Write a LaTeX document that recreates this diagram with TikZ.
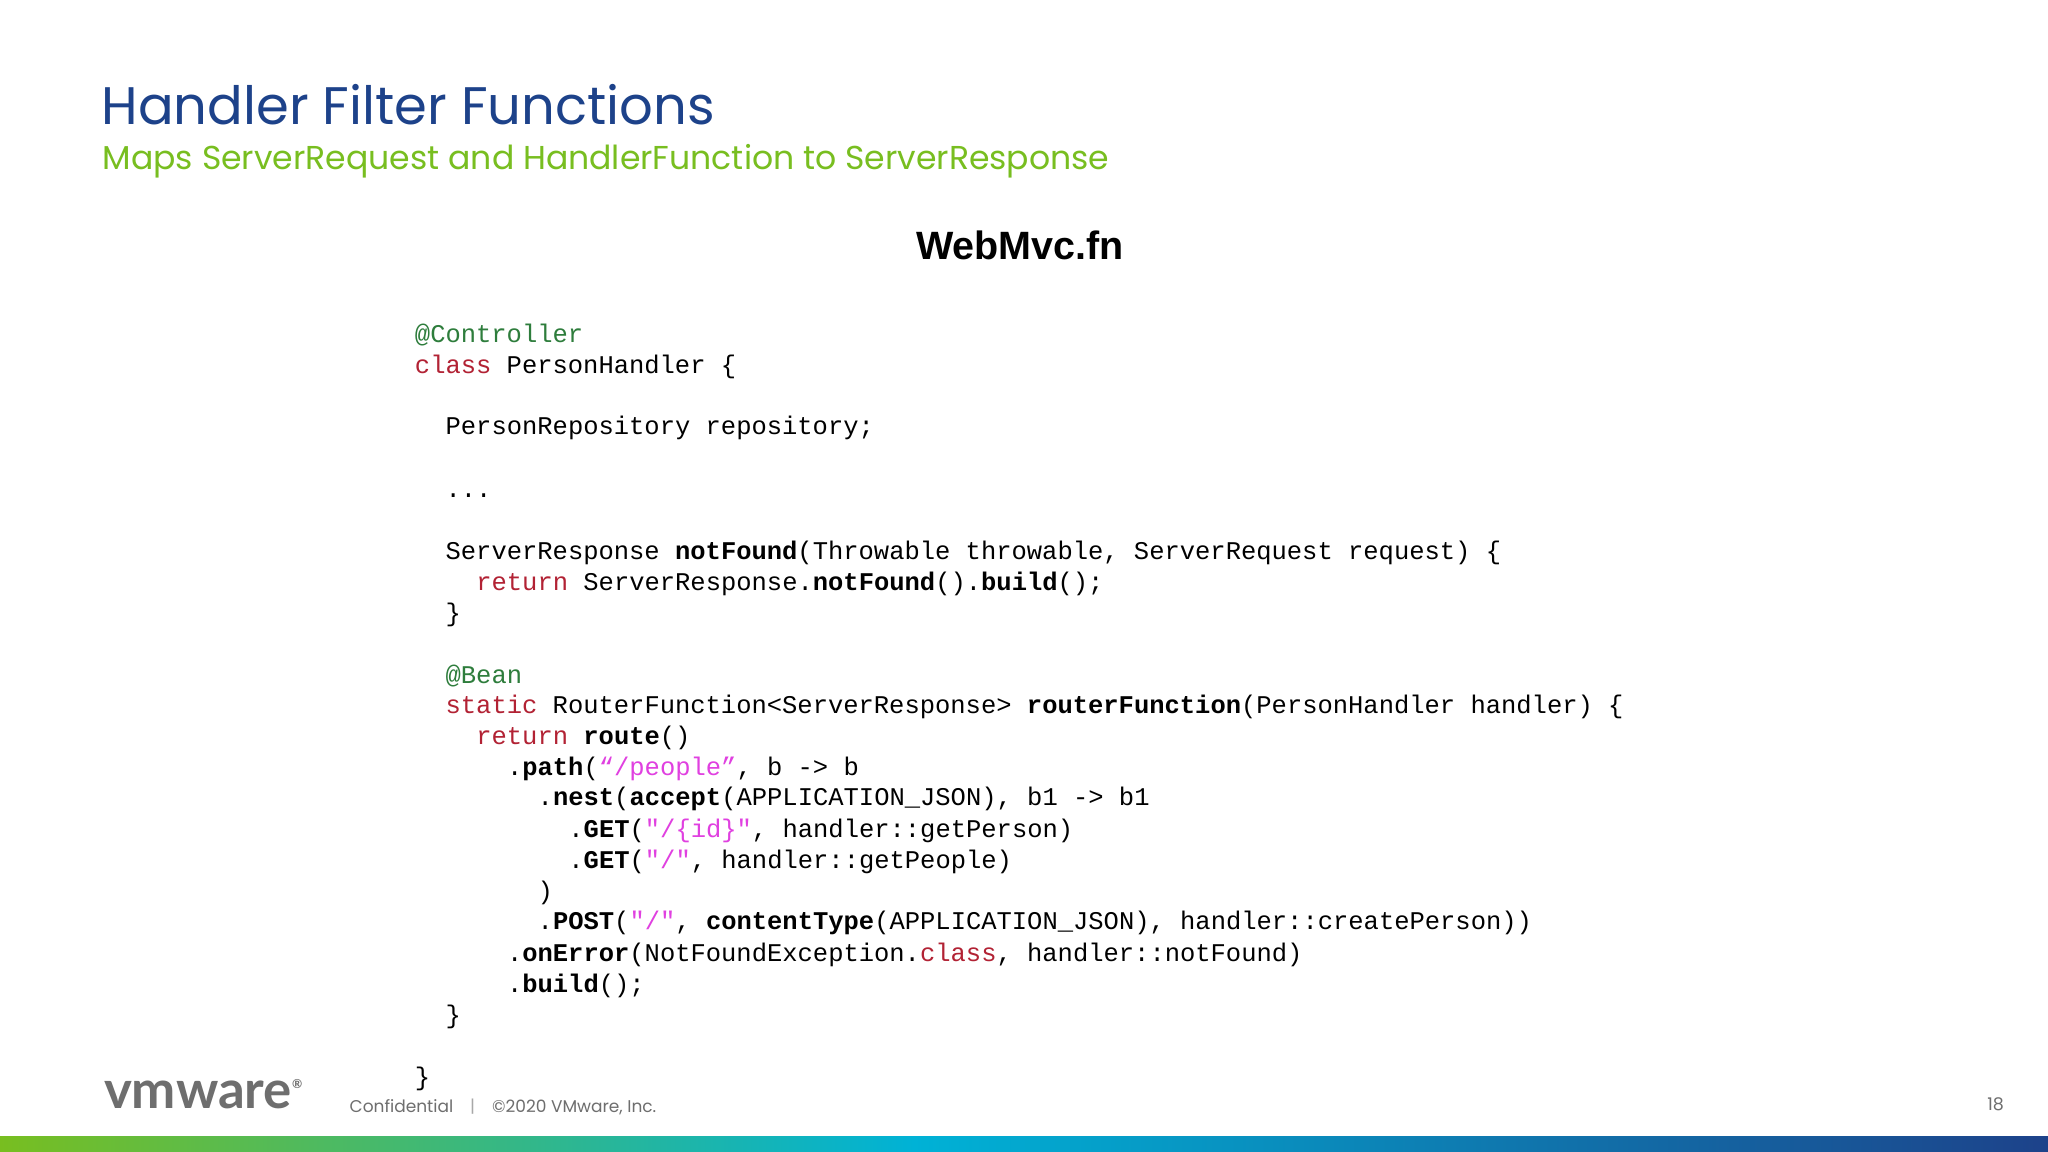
\documentclass[tikz,border=0pt]{standalone}
\usepackage{fontspec}
\setmainfont{Poppins}
\newfontfamily\codef{Liberation Mono}
\newfontfamily\hdf{Liberation Sans}
\newfontfamily\logof{Lato}
\definecolor{ttl}{RGB}{29,66,138}
\definecolor{sub}{RGB}{120,190,32}
\definecolor{kw}{RGB}{178,34,52}
\definecolor{ann}{RGB}{46,125,60}
\definecolor{str}{RGB}{224,64,224}
\definecolor{gry}{RGB}{110,110,110}
\newcommand{\K}[1]{\textcolor{kw}{#1}}
\newcommand{\A}[1]{\textcolor{ann}{#1}}
\newcommand{\Sx}[1]{\textcolor{str}{#1}}
\newcommand{\B}[1]{\textbf{#1}}
\begin{document}
\begin{tikzpicture}[x=0.01cm,y=-0.01cm,
  code/.style={anchor=base west,inner sep=0,font=\codef\fontsize{5.55}{6}\selectfont}]
\useasboundingbox (0,0) rectangle (1568,882);
\fill[white] (0,0) rectangle (1568,882);
\node[anchor=base west,inner sep=0,text=ttl,font=\fontsize{11.5}{13}\selectfont] (title) at (77,95) {Handler Filter Functions};
\node[anchor=base west,inner sep=0,text=sub,font=\fontsize{7.2}{9}\selectfont] (subt) at (78,130) {Maps ServerRequest and HandlerFunction to ServerResponse};
\node[anchor=base,inner sep=0,font=\hdf\bfseries\fontsize{8.6}{10}\selectfont] (hd) at (781,199) {WebMvc.fn};
\foreach \n/\i/\yy/\t in {
 1/0/256/{\A{@Controller}},
 2/0/280/{\K{class} PersonHandler \{},
 4/2/327/{PersonRepository repository;},
 6/2/375/{...},
 8/2/422/{ServerResponse \B{notFound}(Throwable throwable, ServerRequest request) \{},
 9/4/446/{\K{return} ServerResponse.\B{notFound}().\B{build}();},
 10/2/470/{\}},
 12/2/517/{\A{@Bean}},
 13/2/540/{\K{static} RouterFunction<ServerResponse> \B{routerFunction}(PersonHandler handler) \{},
 14/4/564/{\K{return} \B{route}()},
 15/6/588/{.\B{path}(\Sx{“/people”}, b -> b},
 16/8/611/{.\B{nest}(\B{accept}(APPLICATION\_JSON), b1 -> b1},
 17/10/635/{.\B{GET}(\Sx{"/\{id\}"}, handler::getPerson)},
 18/10/659/{.\B{GET}(\Sx{"/"}, handler::getPeople)},
 19/8/683/{)},
 20/8/706/{.\B{POST}(\Sx{"/"}, \B{contentType}(APPLICATION\_JSON), handler::createPerson))},
 21/6/730/{.\B{onError}(NotFoundException.\K{class}, handler::notFound)},
 22/6/754/{.\B{build}();},
 23/2/778/{\}},
 25/0/825/{\}}}
 { \node[code] (l\n) at ({317+11.75*\i},{\yy+6}) {\t}; }
\node[anchor=base west,inner sep=0,text=gry,font=\logof\bfseries\fontsize{11.5}{13}\selectfont] (logo) at (79,849) {vmware\raisebox{4.5pt}{\fontsize{2.7}{3}\selectfont ®}};
\node[anchor=base west,inner sep=0,text=gry,font=\fontsize{3.7}{5}\selectfont] (conf) at (267,852) {Confidential\quad\textcolor{gry!60}{|}\quad ©2020 VMware, Inc.};
\node[anchor=base east,inner sep=0,text=gry,font=\fontsize{3.8}{5}\selectfont] (pg) at (1535,850) {18};
\shade[left color=sub,right color={rgb,255:red,0;green,178;blue,214}] (0,870) rectangle (700,882);
\shade[left color={rgb,255:red,0;green,178;blue,214},right color=ttl] (699,870) rectangle (1568,882);
\end{tikzpicture}
\end{document}
